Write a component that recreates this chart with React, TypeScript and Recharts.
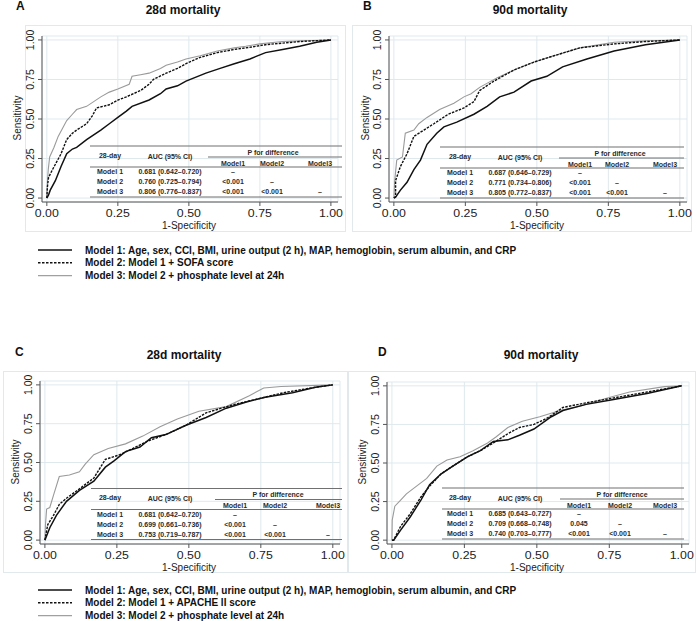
import React from "react";
import { LineChart, Line, XAxis, YAxis, CartesianGrid } from "recharts";

// ---------- data: ROC curves [1-specificity, sensitivity] ----------
const rocA_m1: [number, number][] = [[0,0],[0.006,0.02],[0.012,0.05],[0.03,0.11],[0.05,0.2],[0.07,0.28],[0.09,0.31],[0.105,0.32],[0.14,0.37],[0.19,0.43],[0.22,0.47],[0.25,0.51],[0.28,0.55],[0.30,0.58],[0.36,0.62],[0.40,0.66],[0.42,0.69],[0.46,0.71],[0.49,0.74],[0.56,0.79],[0.61,0.82],[0.66,0.85],[0.715,0.88],[0.77,0.92],[0.83,0.94],[0.89,0.96],[0.95,0.985],[1,1]];
const rocA_m2: [number, number][] = [[0,0],[0.002,0.07],[0.006,0.13],[0.02,0.18],[0.035,0.23],[0.05,0.28],[0.07,0.37],[0.09,0.41],[0.105,0.43],[0.14,0.47],[0.16,0.52],[0.175,0.57],[0.22,0.59],[0.25,0.62],[0.28,0.64],[0.33,0.68],[0.36,0.72],[0.375,0.75],[0.42,0.79],[0.46,0.82],[0.49,0.85],[0.54,0.89],[0.60,0.92],[0.66,0.94],[0.72,0.955],[0.77,0.97],[0.83,0.98],[0.89,0.99],[1,1]];
const rocA_m3: [number, number][] = [[0,0],[0.002,0.10],[0.005,0.18],[0.01,0.26],[0.025,0.32],[0.04,0.39],[0.055,0.44],[0.07,0.49],[0.09,0.53],[0.105,0.56],[0.14,0.58],[0.165,0.61],[0.19,0.64],[0.22,0.67],[0.25,0.69],[0.29,0.72],[0.30,0.77],[0.33,0.78],[0.36,0.79],[0.40,0.82],[0.42,0.84],[0.46,0.86],[0.49,0.88],[0.54,0.90],[0.60,0.93],[0.66,0.95],[0.70,0.96],[0.75,0.975],[0.83,0.99],[0.90,0.995],[1,1]];

const rocB_m1: [number, number][] = [[0,0],[0.006,0.006],[0.023,0.05],[0.046,0.1],[0.07,0.18],[0.093,0.24],[0.116,0.34],[0.15,0.41],[0.175,0.45],[0.22,0.48],[0.28,0.53],[0.326,0.58],[0.37,0.64],[0.42,0.67],[0.48,0.74],[0.535,0.77],[0.59,0.83],[0.675,0.88],[0.77,0.93],[0.88,0.97],[1,1]];
const rocB_m2: [number, number][] = [[0,0],[0.006,0.01],[0.006,0.11],[0.023,0.2],[0.046,0.28],[0.07,0.39],[0.105,0.43],[0.14,0.47],[0.19,0.53],[0.245,0.57],[0.28,0.61],[0.30,0.68],[0.35,0.74],[0.42,0.81],[0.49,0.86],[0.56,0.90],[0.65,0.95],[0.77,0.975],[0.88,0.99],[1,1]];
const rocB_m3: [number, number][] = [[0,0],[0.003,0.11],[0.01,0.24],[0.03,0.26],[0.04,0.41],[0.07,0.43],[0.087,0.47],[0.116,0.51],[0.16,0.56],[0.21,0.60],[0.245,0.64],[0.27,0.66],[0.30,0.70],[0.33,0.73],[0.36,0.76],[0.42,0.81],[0.49,0.86],[0.56,0.90],[0.65,0.95],[0.77,0.985],[0.88,0.995],[1,1]];

const rocC_m1: [number, number][] = [[0,0],[0.017,0.08],[0.04,0.16],[0.075,0.25],[0.12,0.32],[0.17,0.38],[0.21,0.47],[0.24,0.51],[0.28,0.57],[0.33,0.60],[0.37,0.66],[0.42,0.68],[0.49,0.74],[0.56,0.79],[0.63,0.85],[0.70,0.89],[0.765,0.92],[0.86,0.95],[0.94,0.985],[1,1]];
const rocC_m2: [number, number][] = [[0,0],[0.001,0.01],[0.01,0.1],[0.03,0.16],[0.05,0.23],[0.075,0.27],[0.12,0.33],[0.17,0.40],[0.21,0.52],[0.26,0.55],[0.305,0.59],[0.36,0.64],[0.42,0.68],[0.49,0.74],[0.56,0.82],[0.65,0.87],[0.74,0.91],[0.83,0.95],[0.94,0.985],[1,1]];
const rocC_m3: [number, number][] = [[0,0],[0.002,0.10],[0.006,0.2],[0.017,0.21],[0.03,0.29],[0.05,0.41],[0.085,0.42],[0.12,0.44],[0.14,0.49],[0.17,0.55],[0.22,0.59],[0.28,0.62],[0.34,0.67],[0.40,0.73],[0.46,0.78],[0.535,0.83],[0.63,0.86],[0.71,0.93],[0.76,0.98],[0.82,0.99],[1,1]];

const rocD_m1: [number, number][] = [[0,0],[0.006,0],[0.03,0.065],[0.063,0.15],[0.1,0.26],[0.13,0.36],[0.17,0.43],[0.21,0.48],[0.26,0.54],[0.305,0.58],[0.35,0.64],[0.40,0.65],[0.44,0.68],[0.49,0.72],[0.55,0.80],[0.59,0.84],[0.67,0.88],[0.76,0.91],[0.88,0.95],[1,1]];
const rocD_m2: [number, number][] = [[0,0],[0.006,0],[0.03,0.09],[0.063,0.17],[0.1,0.28],[0.13,0.35],[0.17,0.43],[0.21,0.48],[0.26,0.54],[0.305,0.58],[0.35,0.63],[0.40,0.69],[0.44,0.73],[0.49,0.75],[0.535,0.79],[0.59,0.86],[0.67,0.89],[0.76,0.92],[0.88,0.96],[1,1]];
const rocD_m3: [number, number][] = [[0,0],[0.001,0.13],[0.01,0.22],[0.03,0.26],[0.05,0.30],[0.085,0.35],[0.12,0.40],[0.155,0.48],[0.19,0.52],[0.235,0.54],[0.28,0.58],[0.33,0.63],[0.36,0.67],[0.40,0.73],[0.45,0.77],[0.51,0.80],[0.58,0.84],[0.65,0.87],[0.74,0.92],[0.82,0.96],[0.94,0.995],[1,1]];

const axisTicks = [0, 0.25, 0.5, 0.75, 1];

// ---------- table contents ----------
const tableHeaders = ["28-day", "AUC (95% CI)", "P for difference", "Model1", "Model2", "Model3"];
const rowLabels = ["Model 1", "Model 2", "Model 3"];
const aucA = ["0.681 (0.642\u20130.720)", "0.760 (0.725\u20130.794)", "0.806 (0.776\u20130.837)"];
const aucB = ["0.687 (0.646\u20130.729)", "0.771 (0.734\u20130.806)", "0.805 (0.772\u20130.837)"];
const aucC = ["0.681 (0.642\u20130.720)", "0.699 (0.661\u20130.736)", "0.753 (0.719\u20130.787)"];
const aucD = ["0.685 (0.643\u20130.727)", "0.709 (0.668\u20130.748)", "0.740 (0.703\u20130.777)"];
const pA = [["\u2013", "", ""], ["<0.001", "\u2013", ""], ["<0.001", "<0.001", "\u2013"]];
const pB = [["\u2013", "", ""], ["<0.001", "\u2013", ""], ["<0.001", "<0.001", "\u2013"]];
const pC = [["\u2013", "", ""], ["<0.001", "\u2013", ""], ["<0.001", "<0.001", "\u2013"]];
const pD = [["\u2013", "", ""], ["0.045", "\u2013", ""], ["<0.001", "<0.001", "\u2013"]];

const legendTop = [
  "Model 1: Age, sex, CCI, BMI, urine output (2 h), MAP, hemoglobin, serum albumin, and CRP",
  "Model 2: Model 1 + SOFA score",
  "Model 3: Model 2 + phosphate level at 24h",
];
const legendBottom = [
  "Model 1: Age, sex, CCI, BMI, urine output (2 h), MAP, hemoglobin, serum albumin, and CRP",
  "Model 2: Model 1 + APACHE II score",
  "Model 3: Model 2 + phosphate level at 24h",
];

const FONT = "'Liberation Sans', Arial, sans-serif";
const toObj = (arr: [number, number][]) => arr.map(([x, y]) => ({ x, y }));

const XTick = (props: any) => {
  const { x, y, payload } = props;
  return (
    <text x={x} y={y + 9} textAnchor="middle" fontSize={11} fill="#222" fontFamily={FONT}
      textLength={24} lengthAdjust="spacingAndGlyphs">
      {Number(payload.value).toFixed(2)}
    </text>
  );
};
const YTick = (props: any) => {
  const { x, y, payload } = props;
  const bx = x - 2;
  return (
    <text x={bx} y={y} transform={`rotate(-90, ${bx}, ${y})`} textAnchor="middle" fontSize={10.5} fill="#222" fontFamily={FONT}>
      {Number(payload.value).toFixed(2)}
    </text>
  );
};

type PanelProps = {
  left: number; top: number; width: number; height: number;
  mTop: number; mRight: number; yW: number; xH: number;
  m1: [number, number][]; m2: [number, number][]; m3: [number, number][];
};

const Panel = (p: PanelProps) => (
  <div style={{ position: "absolute", left: p.left, top: p.top, width: p.width, height: p.height }}>
    <LineChart width={p.width} height={p.height} margin={{ top: p.mTop, right: p.mRight, left: 0, bottom: 0 }}>
      <CartesianGrid stroke="#dfe9ed" strokeWidth={1} />
      <XAxis
        type="number" dataKey="x" domain={[-0.017, 1.025]} allowDataOverflow ticks={axisTicks}
        height={p.xH} tick={<XTick />} tickSize={4} tickMargin={2}
        axisLine={{ stroke: "#555" }} tickLine={{ stroke: "#555" }} interval={0}
      />
      <YAxis
        type="number" dataKey="y" domain={[-0.025, 1.025]} allowDataOverflow ticks={axisTicks}
        width={p.yW} tick={<YTick />} tickSize={4} tickMargin={2}
        axisLine={{ stroke: "#555" }} tickLine={{ stroke: "#555" }} interval={0}
      />
      <Line data={toObj(p.m3)} dataKey="y" type="linear" stroke="#9a9a9a" strokeWidth={1.1} dot={false} isAnimationActive={false} />
      <Line data={toObj(p.m2)} dataKey="y" type="linear" stroke="#111" strokeWidth={1.4} strokeDasharray="2.5 1.2" dot={false} isAnimationActive={false} />
      <Line data={toObj(p.m1)} dataKey="y" type="linear" stroke="#111" strokeWidth={1.5} dot={false} isAnimationActive={false} />
    </LineChart>
  </div>
);

type TableProps = { left: number; top: number; right: number; subLeft: number; cols: number[]; pX: number; auc: string[]; p: string[][] };

const Table = (t: TableProps) => {
  const txt = { fontSize: 7, fontWeight: 700 as const, fill: "#2b2b2b", fontFamily: FONT, textAnchor: "middle" as const };
  const lineStyle = { stroke: "#707070", strokeWidth: 1.2 };
  return (
    <g>
      <line x1={t.left} x2={t.right} y1={t.top} y2={t.top} {...lineStyle} />
      <line x1={t.subLeft} x2={t.right} y1={t.top + 11} y2={t.top + 11} {...lineStyle} />
      <line x1={t.left} x2={t.right} y1={t.top + 21} y2={t.top + 21} {...lineStyle} />
      <line x1={t.left} x2={t.right} y1={t.top + 51} y2={t.top + 51} {...lineStyle} />
      <text x={t.cols[0]} y={t.top + 11.5} {...txt}>{tableHeaders[0]}</text>
      <text x={t.cols[1]} y={t.top + 12.5} {...txt}>{tableHeaders[1]}</text>
      <text x={t.pX} y={t.top + 8.5} {...txt}>{tableHeaders[2]}</text>
      <text x={t.cols[2]} y={t.top + 19.5} {...txt}>{tableHeaders[3]}</text>
      <text x={t.cols[3]} y={t.top + 19.5} {...txt}>{tableHeaders[4]}</text>
      <text x={t.cols[4]} y={t.top + 19.5} {...txt}>{tableHeaders[5]}</text>
      {rowLabels.map((r, i) => {
        const y = t.top + 28 + i * 10;
        return (
          <g key={r}>
            <text x={t.cols[0]} y={y} {...txt}>{r}</text>
            <text x={t.cols[1]} y={y} {...txt}>{t.auc[i]}</text>
            {t.p[i].map((v, j) => (
              <text key={j} x={t.cols[2 + j]} y={y} {...txt}>{v}</text>
            ))}
          </g>
        );
      })}
    </g>
  );
};

const Legend = ({ top, labels }: { top: number; labels: string[] }) => (
  <g>
    {labels.map((l, i) => {
      const y = top + i * 12.8;
      const stroke = i === 2 ? "#a0a0a0" : "#111";
      return (
        <g key={i}>
          <line x1={38} x2={72} y1={y} y2={y} stroke={stroke} strokeWidth={i === 2 ? 1.2 : 1.4} strokeDasharray={i === 1 ? "2.5 1.5" : undefined} />
          <text x={85} y={y + 3.6} fontSize={10} fontWeight={700} fill="#111" fontFamily={FONT}>{l}</text>
        </g>
      );
    })}
  </g>
);

export default function App() {
  const titleStyle = { fontSize: 12, fontWeight: 700 as const, fill: "#111", fontFamily: FONT, textAnchor: "middle" as const };
  const letterStyle = { fontSize: 12, fontWeight: 700 as const, fill: "#111", fontFamily: FONT };
  const axTitle = { fontSize: 10, fill: "#222", fontFamily: FONT, textAnchor: "middle" as const };
  const frame = { fill: "none", stroke: "#e1e9ec", strokeWidth: 1 };
  return (
    <div style={{ position: "absolute", left: 0, top: 0, width: 697, height: 621, background: "#fff", overflow: "hidden" }}>
      <svg width={697} height={621} style={{ position: "absolute", left: 0, top: 0 }}>
        <rect x={25.5} y={25.5} width={320} height={206} {...frame} />
        <rect x={352.5} y={25.5} width={339} height={206} {...frame} />
        <rect x={3.5} y={371.5} width={344} height={201} {...frame} />
        <rect x={348.5} y={371.5} width={347} height={201} {...frame} />
      </svg>
      <Panel left={0} top={0} width={347} height={235} mTop={36} mRight={9} yW={42} xH={33} m1={rocA_m1} m2={rocA_m2} m3={rocA_m3} />
      <Panel left={347} top={0} width={350} height={235} mTop={36} mRight={10} yW={42} xH={33} m1={rocB_m1} m2={rocB_m2} m3={rocB_m3} />
      <Panel left={0} top={340} width={347} height={240} mTop={41} mRight={7} yW={40} xH={36} m1={rocC_m1} m2={rocC_m2} m3={rocC_m3} />
      <Panel left={347} top={340} width={350} height={240} mTop={42} mRight={8} yW={40} xH={36} m1={rocD_m1} m2={rocD_m2} m3={rocD_m3} />
      <svg width={697} height={621} style={{ position: "absolute", left: 0, top: 0, pointerEvents: "none" }}>
        <text x={16} y={9.5} {...letterStyle}>A</text>
        <text x={363} y={9.5} {...letterStyle}>B</text>
        <text x={15} y={355.5} {...letterStyle}>C</text>
        <text x={378} y={355.5} {...letterStyle}>D</text>
        <text x={183} y={14} {...titleStyle}>28d mortality</text>
        <text x={530} y={14} {...titleStyle}>90d mortality</text>
        <text x={184} y={359} {...titleStyle}>28d mortality</text>
        <text x={541} y={359} {...titleStyle}>90d mortality</text>

        <text x={21} y={118} transform="rotate(-90, 21, 118)" {...axTitle}>Sensitivity</text>
        <text x={369} y={118} transform="rotate(-90, 369, 118)" {...axTitle}>Sensitivity</text>
        <text x={19} y={462} transform="rotate(-90, 19, 462)" {...axTitle}>Sensitivity</text>
        <text x={366} y={462} transform="rotate(-90, 366, 462)" {...axTitle}>Sensitivity</text>
        <text x={189} y={228.5} {...axTitle}>1-Specificity</text>
        <text x={537} y={228.5} {...axTitle}>1-Specificity</text>
        <text x={189} y={570.5} {...axTitle}>1-Specificity</text>
        <text x={537} y={570.5} {...axTitle}>1-Specificity</text>

        <Table left={90} top={146} right={342} subLeft={208} cols={[110, 170, 233, 272, 320]} pX={273} auc={aucA} p={pA} />
        <Table left={440} top={147} right={684} subLeft={559} cols={[460, 520, 580, 617, 665]} pX={620} auc={aucB} p={pB} />
        <Table left={91} top={488.5} right={342} subLeft={215} cols={[110, 170, 235, 275, 328]} pX={278} auc={aucC} p={pC} />
        <Table left={442} top={488} right={684} subLeft={560} cols={[460, 520, 579, 620, 665]} pX={622} auc={aucD} p={pD} />

        <Legend top={250} labels={legendTop} />
        <Legend top={590} labels={legendBottom} />
      </svg>
    </div>
  );
}
